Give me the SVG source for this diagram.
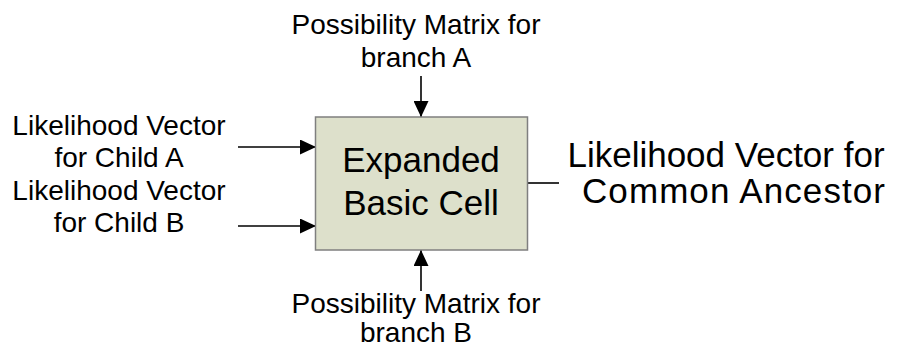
<svg xmlns="http://www.w3.org/2000/svg" width="899" height="349" viewBox="0 0 899 349">
  <style>
    text { font-family: "Liberation Sans", Arial, sans-serif; fill: #000; text-anchor: middle; }
    .lbl { font-size: 28px; }
    .big { font-size: 35px; }
    .conn { stroke: #000; stroke-width: 1.6; fill: none; }
  </style>
  <defs>
    <marker id="arrow" viewBox="0 0 16 15" refX="16" refY="7.5" markerWidth="16" markerHeight="15" markerUnits="userSpaceOnUse" orient="auto">
      <path d="M0,0 L16,7.5 L0,15 Z" fill="#000"/>
    </marker>
  </defs>
  <rect width="899" height="349" fill="#fff"/>

  <g id="connectors">
    <line class="conn" x1="421" y1="76" x2="421" y2="117" marker-end="url(#arrow)"/>
    <line class="conn" x1="238" y1="147" x2="316" y2="147" marker-end="url(#arrow)"/>
    <line class="conn" x1="238" y1="226" x2="316" y2="226" marker-end="url(#arrow)"/>
    <line class="conn" x1="421" y1="291" x2="421" y2="250" marker-end="url(#arrow)"/>
    <line class="conn" x1="528" y1="183" x2="559" y2="183"/>
  </g>

  <g id="cell">
    <rect x="315.5" y="117" width="212" height="133" fill="#DDE0CB" stroke="#7F7F7F" stroke-width="1.5"/>
    <text class="big" x="421" y="172">Expanded</text>
    <text class="big" x="421" y="215">Basic Cell</text>
  </g>

  <g id="matrix-a">
    <text class="lbl" x="416" y="34">Possibility Matrix for</text>
    <text class="lbl" x="416" y="67">branch A</text>
  </g>

  <g id="matrix-b">
    <text class="lbl" x="416" y="313">Possibility Matrix for</text>
    <text class="lbl" x="416" y="342">branch B</text>
  </g>

  <g id="child-a">
    <text class="lbl" x="119" y="135">Likelihood Vector</text>
    <text class="lbl" x="119" y="167">for Child A</text>
  </g>

  <g id="child-b">
    <text class="lbl" x="119" y="200">Likelihood Vector</text>
    <text class="lbl" x="119" y="232">for Child B</text>
  </g>

  <g id="ancestor">
    <text class="big" x="726" y="167">Likelihood Vector for</text>
    <text class="big" x="733.5" y="203" textLength="303" lengthAdjust="spacing">Common Ancestor</text>
  </g>
</svg>
